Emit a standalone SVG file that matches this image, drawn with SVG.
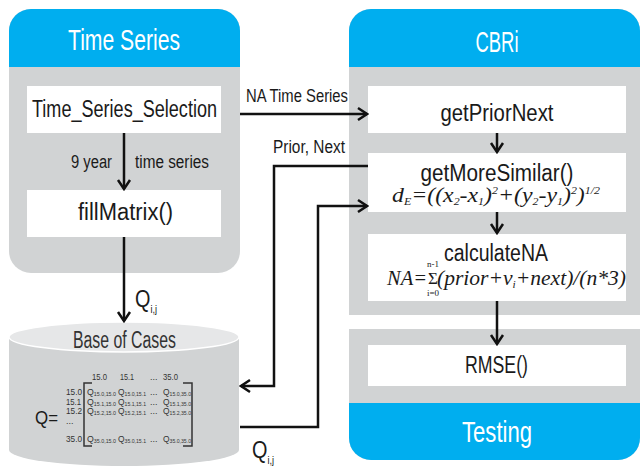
<svg xmlns="http://www.w3.org/2000/svg" width="641" height="474" viewBox="0 0 641 474">
<style>
.gray{fill:#d1d3d4}
.blue{fill:#00aeef}
.box{fill:#ffffff}
.hdr{font-family:"Liberation Sans",Arial,sans-serif;font-size:29px;fill:#ffffff;text-anchor:middle}
.t{font-family:"Liberation Sans",Arial,sans-serif;font-size:23px;fill:#1a1a1a;text-anchor:middle}
.lbl{font-family:"Liberation Sans",Arial,sans-serif;font-size:18px;fill:#1a1a1a}
.m{font-family:"Liberation Serif","Times New Roman",serif;font-style:italic;fill:#1a1a1a}
.mx{font-family:"Liberation Sans",Arial,sans-serif;font-size:9px;fill:#333333}
.sub{font-size:5.5px}
.wire{fill:none;stroke:#111;stroke-width:2.5}
</style>
<defs>
<marker id="arr" markerUnits="userSpaceOnUse" markerWidth="14" markerHeight="16" viewBox="-11 -8 12 16" refX="0" refY="0" orient="auto">
<path d="M-9,-6 L0,0 L-9,6" fill="none" stroke="#111" stroke-width="2.5"/>
</marker>
</defs>

<g id="time-series">
<rect x="9" y="9" width="231" height="264" rx="22" class="gray"/>
<path d="M9,67 V31 A22,22 0 0 1 31,9 H218 A22,22 0 0 1 240,31 V67 Z" class="blue"/>
<text x="124" y="50" class="hdr" textLength="112" lengthAdjust="spacingAndGlyphs">Time Series</text>
</g>
<g id="tss">
<rect x="27" y="86" width="194" height="47" class="box"/>
<text x="124.5" y="117" class="t" textLength="185" lengthAdjust="spacingAndGlyphs">Time_Series_Selection</text>
</g>
<g id="fillmatrix">
<rect x="27" y="190" width="194" height="47" class="box"/>
<text x="125.5" y="220" class="t" textLength="95" lengthAdjust="spacingAndGlyphs">fillMatrix()</text>
</g>

<g id="cbri">
<path d="M349,315 V31 A22,22 0 0 1 371,9 H618 A22,22 0 0 1 640,31 V315 Z" class="gray"/>
<path d="M349,67 V31 A22,22 0 0 1 371,9 H618 A22,22 0 0 1 640,31 V67 Z" class="blue"/>
<text x="497" y="52" class="hdr" textLength="43" lengthAdjust="spacingAndGlyphs">CBRi</text>
</g>
<g id="getpriornext">
<rect x="368" y="86" width="258" height="47" class="box"/>
<text x="497" y="121" class="t" textLength="113" lengthAdjust="spacingAndGlyphs">getPriorNext</text>
</g>
<g id="getmoresimilar">
<rect x="368" y="153" width="258" height="59" class="box"/>
<text x="497" y="181" class="t" textLength="153" lengthAdjust="spacingAndGlyphs">getMoreSimilar()</text>
<text x="392" y="202" class="m" font-size="20" textLength="208" lengthAdjust="spacingAndGlyphs">d<tspan font-size="10" dy="3">E</tspan><tspan dy="-3">=((x</tspan><tspan font-size="10" dy="3">2</tspan><tspan dy="-3">-x</tspan><tspan font-size="10" dy="3">1</tspan><tspan dy="-3">)</tspan><tspan font-size="10" dy="-8">2</tspan><tspan dy="8">+(y</tspan><tspan font-size="10" dy="3">2</tspan><tspan dy="-3">-y</tspan><tspan font-size="10" dy="3">1</tspan><tspan dy="-3">)</tspan><tspan font-size="10" dy="-8">2</tspan><tspan dy="8">)</tspan><tspan font-size="10" dy="-8">1/2</tspan></text>
</g>
<g id="calculatena">
<rect x="368" y="234" width="258" height="67" class="box"/>
<text x="496" y="261" class="t" textLength="104" lengthAdjust="spacingAndGlyphs">calculateNA</text>
<text x="387" y="285" class="m" font-size="21" textLength="40" lengthAdjust="spacingAndGlyphs">NA=</text>
<text x="428" y="284" font-family="Liberation Serif,serif" font-size="17" fill="#1a1a1a">Σ</text>
<text x="433" y="267" font-family="Liberation Serif,serif" font-size="9" fill="#1a1a1a" text-anchor="middle">n-1</text>
<text x="433" y="296" font-family="Liberation Serif,serif" font-size="9" fill="#1a1a1a" text-anchor="middle">i=0</text>
<text x="437" y="285" class="m" font-size="21" textLength="189" lengthAdjust="spacingAndGlyphs">(prior+v<tspan font-size="11" dy="3">i</tspan><tspan dy="-3">+next)/(n*3)</tspan></text>
</g>

<g id="testing">
<path d="M349,329 H640 V438 A22,22 0 0 1 618,460 H371 A22,22 0 0 1 349,438 Z" class="gray"/>
<path d="M349,403 H640 V438 A22,22 0 0 1 618,460 H371 A22,22 0 0 1 349,438 Z" class="blue"/>
<text x="497" y="442" class="hdr" textLength="70" lengthAdjust="spacingAndGlyphs">Testing</text>
</g>
<g id="rmse">
<rect x="368" y="345" width="258" height="41" class="box"/>
<text x="496.5" y="373" class="t" textLength="63" lengthAdjust="spacingAndGlyphs">RMSE()</text>
</g>

<g id="base-of-cases">
<path d="M9,337 V450 A115,16 0 0 0 239,450 V337 Z" class="gray"/>
<ellipse cx="124" cy="337" rx="115" ry="15" fill="#e6e7e8" stroke="#ffffff" stroke-width="1.5"/>
<text x="124.5" y="348" class="t" style="fill:#333333" textLength="103" lengthAdjust="spacingAndGlyphs">Base of Cases</text>
<text x="35" y="424" class="lbl" style="font-size:19px" textLength="23" lengthAdjust="spacingAndGlyphs">Q=</text>
<g class="mx">
<text x="92" y="380" textLength="15" lengthAdjust="spacingAndGlyphs">15.0</text>
<text x="120" y="380" textLength="14" lengthAdjust="spacingAndGlyphs">15.1</text>
<text x="150" y="380">...</text>
<text x="163" y="380" textLength="15" lengthAdjust="spacingAndGlyphs">35.0</text>
<text x="66" y="395" textLength="16" lengthAdjust="spacingAndGlyphs">15.0</text>
<text x="66" y="405" textLength="15" lengthAdjust="spacingAndGlyphs">15.1</text>
<text x="66" y="414" textLength="16" lengthAdjust="spacingAndGlyphs">15.2</text>
<text x="66" y="424">...</text>
<text x="66" y="442" textLength="16" lengthAdjust="spacingAndGlyphs">35.0</text>
<text x="87" y="395" textLength="29" lengthAdjust="spacingAndGlyphs">Q<tspan class="sub" dy="1">15.0,15.0</tspan></text>
<text x="118" y="395" textLength="28" lengthAdjust="spacingAndGlyphs">Q<tspan class="sub" dy="1">15.0,15.1</tspan></text>
<text x="150" y="395">...</text>
<text x="163" y="395" textLength="28" lengthAdjust="spacingAndGlyphs">Q<tspan class="sub" dy="1">15.0,35.0</tspan></text>
<text x="87" y="405" textLength="29" lengthAdjust="spacingAndGlyphs">Q<tspan class="sub" dy="1">15.1,15.0</tspan></text>
<text x="118" y="405" textLength="28" lengthAdjust="spacingAndGlyphs">Q<tspan class="sub" dy="1">15.1,15.1</tspan></text>
<text x="150" y="405">...</text>
<text x="163" y="405" textLength="28" lengthAdjust="spacingAndGlyphs">Q<tspan class="sub" dy="1">15.1,35.0</tspan></text>
<text x="87" y="414" textLength="29" lengthAdjust="spacingAndGlyphs">Q<tspan class="sub" dy="1">15.2,15.0</tspan></text>
<text x="118" y="414" textLength="28" lengthAdjust="spacingAndGlyphs">Q<tspan class="sub" dy="1">15.2,15.1</tspan></text>
<text x="150" y="414">...</text>
<text x="163" y="414" textLength="28" lengthAdjust="spacingAndGlyphs">Q<tspan class="sub" dy="1">15.2,35.0</tspan></text>
<text x="87" y="442" textLength="29" lengthAdjust="spacingAndGlyphs">Q<tspan class="sub" dy="1">35.0,15.0</tspan></text>
<text x="118" y="442" textLength="28" lengthAdjust="spacingAndGlyphs">Q<tspan class="sub" dy="1">35.0,15.1</tspan></text>
<text x="150" y="442">...</text>
<text x="163" y="442" textLength="28" lengthAdjust="spacingAndGlyphs">Q<tspan class="sub" dy="1">35.0,35.0</tspan></text>
</g>
<path d="M92,383 H84 V446 H92 M183,383 H192 V446 H183" fill="none" stroke="#333" stroke-width="1.5"/>
</g>

<g id="connectors">
<path d="M124,133 V189" class="wire" marker-end="url(#arr)"/>
<path d="M124,237 V321" class="wire" marker-end="url(#arr)"/>
<path d="M240,114 H367" class="wire" marker-end="url(#arr)"/>
<path d="M497,133 V152" class="wire" marker-end="url(#arr)"/>
<path d="M497,212 V233" class="wire" marker-end="url(#arr)"/>
<path d="M497,301 V344" class="wire" marker-end="url(#arr)"/>
<path d="M368,166 H274 V386 H241" class="wire" marker-end="url(#arr)"/>
<path d="M240,427 H318 V206 H367" class="wire" marker-end="url(#arr)"/>
<text x="246" y="102" class="lbl" textLength="102" lengthAdjust="spacingAndGlyphs">NA Time Series</text>
<text x="273" y="153" class="lbl" textLength="72" lengthAdjust="spacingAndGlyphs">Prior, Next</text>
<text x="71" y="168" class="lbl" textLength="41" lengthAdjust="spacingAndGlyphs">9 year</text>
<text x="135" y="168" class="lbl" textLength="74" lengthAdjust="spacingAndGlyphs">time series</text>
<text x="135" y="307" class="lbl" style="font-size:24px" textLength="22" lengthAdjust="spacingAndGlyphs">Q<tspan style="font-size:11px" dy="6">i,j</tspan></text>
<text x="252" y="458" class="lbl" style="font-size:24px" textLength="22" lengthAdjust="spacingAndGlyphs">Q<tspan style="font-size:11px" dy="6">i,j</tspan></text>
</g>
</svg>
